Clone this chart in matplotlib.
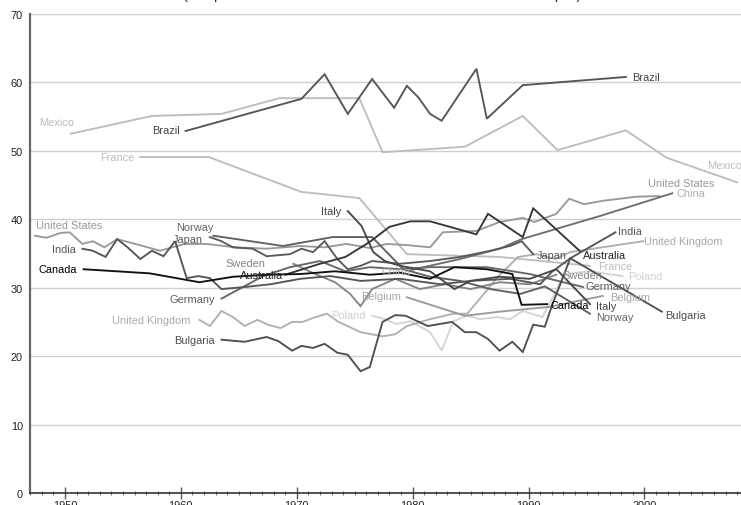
import matplotlib
matplotlib.use("Agg")
import matplotlib.pyplot as plt
from matplotlib.ticker import MultipleLocator

plt.rcParams['font.family'] = ['Liberation Sans', 'DejaVu Sans']

# ---- Gini coefficients (percent) by country and year ----
brazil_years = [1960.4, 1970.4, 1972.4, 1974.4, 1976.5, 1978.4, 1979.5, 1980.5, 1981.5,
                1982.5, 1985.5, 1986.4, 1989.5, 1998.4]
brazil_gini = [52.9, 57.6, 61.2, 55.4, 60.5, 56.3, 59.5, 57.8, 55.4, 54.4, 62.0, 54.7, 59.6, 60.8]

mexico_years = [1950.5, 1957.5, 1963.5, 1968.5, 1975.4, 1977.4, 1984.5, 1989.5, 1992.5,
                1998.4, 2001.9, 2008.0]
mexico_gini = [52.5, 55.1, 55.4, 57.7, 57.7, 49.8, 50.6, 55.1, 50.1, 53.0, 49.0, 45.4]

france_years = [1956.5, 1962.4, 1970.4, 1975.4, 1979.5, 1987.5, 1995.3]
france_gini = [49.1, 49.1, 44.0, 43.1, 34.9, 34.5, 33.2]

us_years = [1947.4, 1948.4, 1949.6, 1950.4, 1951.5, 1952.4, 1953.4, 1954.5, 1956.5, 1958.2,
            1960.3, 1962.2, 1964.7, 1967.4, 1970.3, 1972.4, 1974.3, 1976.3, 1977.8, 1979.7,
            1981.5, 1982.6, 1985.5, 1987.5, 1989.5, 1990.5, 1992.4, 1993.5, 1994.8, 1996.4,
            1999.3, 2001.3]
us_gini = [37.6, 37.3, 38.0, 38.1, 36.4, 36.8, 35.9, 37.1, 36.2, 35.4,
           36.4, 36.4, 35.9, 35.7, 36.1, 35.9, 36.4, 35.8, 36.4, 36.2,
           35.9, 38.1, 38.3, 39.6, 40.2, 39.6, 40.8, 43.0, 42.2, 42.7,
           43.3, 43.4]

china_years = [1979.9, 1984.1, 1987.5, 1989.4, 1996.2, 2002.4]
china_gini = [32.6, 34.2, 35.7, 37.1, 40.5, 43.8]

india_years = [1951.5, 1952.4, 1953.5, 1954.5, 1955.4, 1956.5, 1957.5, 1958.5, 1959.5, 1960.5,
               1961.5, 1962.5, 1963.5, 1965.5, 1967.7, 1970.3, 1972.9, 1975.5, 1978.9, 1982.4,
               1985.0, 1988.4, 1991.0, 1992.0, 1993.6, 1997.5]
india_gini = [35.7, 35.4, 34.5, 37.1, 35.9, 34.2, 35.4, 34.6, 36.8, 31.4,
              31.7, 31.4, 29.8, 30.1, 30.5, 31.3, 31.7, 31.0, 31.3, 30.5,
              31.0, 31.3, 30.5, 32.3, 34.3, 38.1]

canada_years = [1951.6, 1957.3, 1961.6, 1964.5, 1967.4, 1970.3, 1973.3, 1976.3, 1978.9, 1981.5,
                1983.6, 1986.4, 1988.6, 1989.4, 1991.6]
canada_gini = [32.7, 32.1, 30.8, 31.6, 31.9, 32.0, 32.4, 31.9, 32.2, 31.3,
               33.0, 32.7, 32.0, 27.5, 27.6]

norway_years = [1962.8, 1968.8, 1973.1, 1976.5, 1979.2, 1981.5, 1984.1, 1986.7, 1989.3, 1991.4, 1995.3]
norway_gini = [37.6, 36.1, 37.4, 37.4, 32.7, 31.6, 31.0, 29.8, 29.1, 30.2, 26.2]

japan_years = [1962.5, 1963.5, 1964.5, 1966.2, 1967.4, 1969.4, 1970.4, 1971.4, 1972.4, 1973.5,
               1974.4, 1975.5, 1976.5, 1978.9, 1981.5, 1984.1, 1986.7, 1988.4, 1989.4, 1990.4]
japan_gini = [37.4, 36.8, 35.9, 35.7, 34.6, 34.9, 35.7, 35.2, 36.8, 34.2,
              32.7, 33.2, 33.9, 33.5, 33.9, 34.5, 35.4, 36.1, 36.8, 34.9]

sweden_years = [1969.7, 1971.6, 1973.3, 1974.6, 1975.5, 1976.5, 1978.5, 1980.6, 1982.8, 1985.0,
                1987.5, 1990.1, 1992.4]
sweden_gini = [33.5, 32.0, 30.8, 29.1, 27.3, 29.8, 31.3, 29.8, 30.5, 29.8, 30.8, 30.5, 31.9]

australia_years = [1969.0, 1972.0, 1974.2, 1976.3, 1978.0, 1979.8, 1981.5, 1983.2, 1985.5, 1986.5,
                   1989.5, 1990.4, 1994.4]
australia_gini = [31.9, 33.5, 34.5, 36.7, 38.9, 39.7, 39.7, 38.9, 37.8, 40.8, 37.4, 41.6, 35.4]

germany_years = [1963.5, 1967.1, 1969.4, 1972.0, 1974.2, 1976.3, 1978.9, 1981.5, 1984.1, 1986.4,
                 1990.1, 1994.7]
germany_gini = [28.4, 31.7, 33.0, 33.9, 32.4, 33.0, 32.7, 33.0, 33.0, 33.0, 32.0, 30.1]

uk_years = [1961.6, 1962.5, 1963.5, 1964.5, 1965.5, 1966.6, 1967.5, 1968.6, 1969.6, 1970.5,
            1971.6, 1972.6, 1973.6, 1974.5, 1975.5, 1977.4, 1978.5, 1979.5, 1981.5, 1983.5,
            1984.7, 1985.8, 1987.4, 1989.1, 1990.7, 1992.3, 1993.6, 1999.9]
uk_gini = [25.3, 24.4, 26.6, 25.7, 24.4, 25.3, 24.6, 24.1, 25.0, 25.0,
           25.7, 26.2, 25.0, 24.3, 23.5, 22.9, 23.2, 24.4, 25.4, 26.2,
           26.2, 28.4, 31.7, 34.5, 34.9, 34.2, 35.2, 36.8]

bulgaria_years = [1963.5, 1965.5, 1967.4, 1968.4, 1969.6, 1970.4, 1971.4, 1972.4, 1973.5, 1974.4,
                  1975.5, 1976.3, 1977.4, 1978.5, 1979.4, 1981.3, 1983.4, 1984.5, 1985.5, 1986.5,
                  1987.5, 1988.6, 1989.5, 1990.4, 1991.4, 1992.0, 1993.6, 2001.5]
bulgaria_gini = [22.4, 22.1, 22.8, 22.2, 20.8, 21.5, 21.2, 21.8, 20.5, 20.2,
                 17.8, 18.4, 25.0, 26.0, 25.9, 24.4, 25.0, 23.5, 23.5, 22.5,
                 20.8, 22.1, 20.6, 24.6, 24.3, 27.3, 34.3, 26.5]

italy_years = [1974.4, 1975.6, 1976.6, 1977.6, 1978.9, 1981.5, 1983.6, 1985.0, 1987.5, 1990.1,
               1992.4, 1995.3]
italy_gini = [41.2, 39.0, 35.2, 33.9, 33.2, 32.4, 29.8, 31.0, 31.6, 31.3, 32.7, 27.6]

poland_years = [1976.5, 1977.6, 1978.6, 1979.8, 1981.5, 1982.5, 1983.5, 1984.7, 1985.8, 1987.3,
                1988.4, 1989.5, 1991.2, 1993.1, 1995.3, 1998.1]
poland_gini = [25.9, 25.4, 24.7, 25.1, 23.5, 20.8, 25.1, 25.9, 25.4, 25.7,
               25.4, 26.6, 25.7, 32.0, 32.4, 31.7]

belgium_years = [1979.5, 1984.5, 1987.5, 1991.8, 1996.4]
belgium_gini = [28.6, 25.9, 26.5, 27.2, 28.8]

# ---- drawing styles: (name, years, values, line colour, label colour, start label pos, end label pos) ----
series = [
    ("Mexico", mexico_years, mexico_gini, "#bdbdbd", "#bdbdbd", (1950.8, 54.2), (2005.4, 47.9)),
    ("France", france_years, france_gini, "#bdbdbd", "#bdbdbd", (1956.0, 49.1), (1996.0, 33.2)),
    ("Poland", poland_years, poland_gini, "#d4d4d4", "#d0d0d0", (1975.9, 26.0), (1998.6, 31.7)),
    ("United Kingdom", uk_years, uk_gini, "#b0b0b0", "#a8a8a8", (1960.8, 25.3), (2000.0, 36.8)),
    ("Belgium", belgium_years, belgium_gini, "#9a9a9a", "#a8a8a8", (1979.0, 28.8), (1997.0, 28.6)),
    ("United States", us_years, us_gini, "#999999", "#999999", (1947.5, 39.2), (2000.3, 45.3)),
    ("Sweden", sweden_years, sweden_gini, "#858585", "#858585", (1967.3, 33.6), (1992.9, 31.9)),
    ("China", china_years, china_gini, "#6e6e6e", "#b0b0b0", (1979.8, 32.4), (2002.8, 43.8)),
    ("Germany", germany_years, germany_gini, "#666666", "#5a5a5a", (1962.9, 28.35), (1994.9, 30.25)),
    ("Norway", norway_years, norway_gini, "#606060", "#666666", (1962.8, 38.9), (1995.8, 25.7)),
    ("Japan", japan_years, japan_gini, "#5a5a5a", "#555555", (1961.9, 37.1), (1990.7, 34.8)),
    ("India", india_years, india_gini, "#555555", "#555555", (1950.9, 35.7), (1997.7, 38.3)),
    ("Bulgaria", bulgaria_years, bulgaria_gini, "#4f4f4f", "#4f4f4f", (1962.9, 22.4), (2001.8, 26.0)),
    ("Brazil", brazil_years, brazil_gini, "#555555", "#444444", (1959.9, 53.05), (1998.9, 60.8)),
    ("Italy", italy_years, italy_gini, "#474747", "#444444", (1973.8, 41.2), (1995.8, 27.3)),
    ("Australia", australia_years, australia_gini, "#363636", "#222222", (1968.8, 31.9), (1994.7, 34.8)),
    ("Canada", canada_years, canada_gini, "#111111", "#000000", (1951.0, 32.7), (1991.85, 27.5)),
]

W, H = 741, 506
fig = plt.figure(figsize=(W / 100, H / 100), dpi=100)
ax = fig.add_axes([30 / W, 12 / H, 711 / W, 479 / H])

ax.set_xlim(1946.98, 2008.33)
ax.set_ylim(0, 70)

# horizontal grid
ax.set_yticks(range(0, 71, 10))
ax.yaxis.grid(True, color="#d0d0d0", linewidth=1.0)
ax.set_axisbelow(True)

for name, yrs, vals, lc, tc, start_pos, end_pos in series:
    ax.plot(yrs, vals, color=lc, linewidth=1.35, solid_joinstyle="miter", zorder=3)
    ax.text(start_pos[0], start_pos[1], name, color=tc, fontsize=7.9,
            ha="left" if name == "United States" else "right", va="center",
            zorder=4, clip_on=False)
    ax.text(end_pos[0], end_pos[1], name, color=tc, fontsize=7.9,
            ha="left", va="center", zorder=4, clip_on=False)

# axes frame
for side in ("top", "right"):
    ax.spines[side].set_visible(False)
ax.spines["left"].set_color("#666666")
ax.spines["left"].set_linewidth(1.6)
ax.spines["bottom"].set_color("#333333")
ax.spines["bottom"].set_linewidth(1.2)

ax.xaxis.set_major_locator(MultipleLocator(10))
ax.xaxis.set_minor_locator(MultipleLocator(1))
ax.tick_params(axis="x", which="major", direction="inout", length=8, width=1.0,
               color="#555555", labelsize=7.9, pad=1, labelcolor="#222222")
ax.tick_params(axis="x", which="minor", direction="inout", length=3.5, width=0.8,
               color="#777777")
ax.tick_params(axis="y", length=0, pad=5, labelsize=7.9, labelcolor="#222222")

# subtitle line of the heading (its glyph bodies sit above the canvas edge)
fig.text(382 / W, 1 + 0.5 / H, "(in a percent scale from 0 to 100 where 100 is the most unequal)",
         ha="center", va="baseline", fontsize=10, color="#222222")

fig.savefig("out.png", dpi=100)
